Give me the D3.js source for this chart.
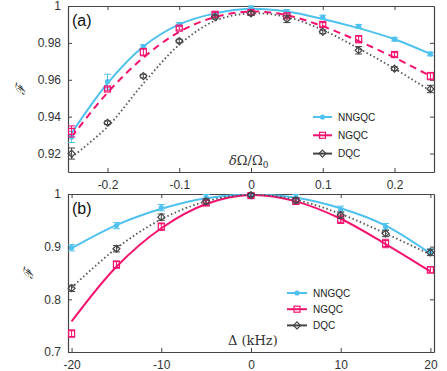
<!DOCTYPE html>
<html>
<head>
<meta charset="utf-8">
<script src="https://cdn.jsdelivr.net/npm/d3@7"></script>
<style>
  body { margin: 0; background: #fff; }
  svg { font-family: "Liberation Sans", Arial, sans-serif; }
  .tick text { fill: #333; font-size: 12px; }
  .tick line, .domain { stroke: #444; }
</style>
</head>
<body>
<script>
// panel (a): fidelity vs relative Rabi-frequency error
var xA = [-0.25, -0.2, -0.15, -0.1, -0.05, 0, 0.05, 0.1, 0.15, 0.2, 0.25];
var aNNGQC = [0.929, 0.959, 0.978, 0.990, 0.996, 0.999, 0.997, 0.994, 0.989, 0.982, 0.974];
var aNNGQCerr = [0.003, 0.004, 0.001, 0.001, 0.001, 0.001, 0.001, 0.001, 0.001, 0.001, 0.001];
var aNGQC = [0.932, 0.955, 0.975, 0.988, 0.9955, 0.9965, 0.9947, 0.990, 0.982, 0.9737, 0.962];
var aNGQCerr = [0.003, 0.001, 0.002, 0.001, 0.001, 0.001, 0.001, 0.001, 0.002, 0.001, 0.002];
var aDQC = [0.920, 0.9367, 0.962, 0.981, 0.994, 0.996, 0.993, 0.986, 0.976, 0.966, 0.955];
var aDQCerr = [0.003, 0.001, 0.001, 0.001, 0.001, 0.001, 0.002, 0.001, 0.002, 0.001, 0.002];
var aNNGQCfit = [0.931, 0.958, 0.978, 0.990, 0.996, 0.9985, 0.997, 0.993, 0.988, 0.982, 0.974];
var aNGQCfit = [0.929, 0.953, 0.972, 0.986, 0.994, 0.997, 0.995, 0.989, 0.981, 0.972, 0.962];
var aDQCfit = [0.918, 0.9345, 0.958, 0.979, 0.992, 0.996, 0.994, 0.987, 0.977, 0.966, 0.954];

// panel (b): fidelity vs detuning
var xB = [-20, -15, -10, -5, 0, 5, 10, 15, 20];
var bNNGQC = [0.898, 0.940, 0.974, 0.994, 0.998, 0.994, 0.971, 0.938, 0.890];
var bNNGQCerr = [0.006, 0.006, 0.006, 0.005, 0.003, 0.005, 0.006, 0.006, 0.006];
var bNGQC = [0.735, 0.866, 0.938, 0.983, 0.997, 0.986, 0.952, 0.906, 0.856];
var bNGQCerr = [0.007, 0.007, 0.007, 0.005, 0.004, 0.005, 0.008, 0.008, 0.006];
var bDQC = [0.821, 0.896, 0.956, 0.986, 0.998, 0.988, 0.960, 0.925, 0.889];
var bDQCerr = [0.006, 0.006, 0.006, 0.005, 0.003, 0.005, 0.006, 0.006, 0.006];
var bNNGQCfit = [0.897, 0.941, 0.972, 0.992, 0.999, 0.993, 0.973, 0.940, 0.887];
var bNGQCfit = [0.758, 0.862, 0.935, 0.981, 0.998, 0.986, 0.953, 0.905, 0.853];
var bDQCfit = [0.822, 0.897, 0.952, 0.986, 0.999, 0.989, 0.962, 0.925, 0.885];

var ticksA_x = [-0.2, -0.1, 0, 0.1, 0.2];
var ticksA_y = [0.92, 0.94, 0.96, 0.98, 1];
var ticksB_x = [-20, -10, 0, 10, 20];
var ticksB_y = [0.7, 0.8, 0.9, 1];
var names = ['NNGQC', 'NGQC', 'DQC'];
var colors = ['#4fc1ef', '#f5126f', '#555'];
var markers = ['dot', 'square', 'diamond'];

var W = 447, H = 371;
var svg = d3.select('body').append('svg').attr('width', W).attr('height', H);

function drawMarker(g, type, color, cx, cy) {
    if (type == 'dot') {
        g.append('circle').attr('cx', cx).attr('cy', cy).attr('r', 2.6).attr('fill', color);
    } else if (type == 'square') {
        g.append('rect').attr('x', cx - 3).attr('y', cy - 3).attr('width', 6).attr('height', 6)
            .attr('fill', 'none').attr('stroke', color).attr('stroke-width', 1.2);
    } else {
        g.append('path').attr('d', 'M' + cx + ',' + (cy - 3.5) + 'L' + (cx + 3.5) + ',' + cy +
                'L' + cx + ',' + (cy + 3.5) + 'L' + (cx - 3.5) + ',' + cy + 'Z')
            .attr('fill', 'none').attr('stroke', color).attr('stroke-width', 1.2);
    }
}

function panel(opt) {
    var x = d3.scaleLinear().domain(opt.xdom).range([68, 434]);
    var y = d3.scaleLinear().domain(opt.ydom).range([opt.bottom, opt.top]);
    var g = svg.append('g');

    // axes, ticks pointing inward on all four sides
    g.append('g').attr('transform', 'translate(0,' + opt.bottom + ')')
        .call(d3.axisBottom(x).tickValues(opt.xt).tickSize(-4).tickPadding(8).tickSizeOuter(0)
            .tickFormat(d => String(d)));
    g.append('g').attr('transform', 'translate(0,' + opt.top + ')')
        .call(d3.axisTop(x).tickValues(opt.xt).tickSize(-4).tickSizeOuter(0).tickFormat(''));
    g.append('g').attr('transform', 'translate(68,0)')
        .call(d3.axisLeft(y).tickValues(opt.yt).tickSize(-4).tickPadding(7).tickSizeOuter(0)
            .tickFormat(d => String(d)));
    g.append('g').attr('transform', 'translate(434,0)')
        .call(d3.axisRight(y).tickValues(opt.yt).tickSize(-4).tickSizeOuter(0).tickFormat(''));
    g.selectAll('.domain').attr('stroke-width', 1.2);

    var line = d3.line().curve(d3.curveCatmullRom).x((d, i) => x(opt.xs[i])).y(d => y(d));
    var clip = 'clip' + opt.id;
    svg.append('clipPath').attr('id', clip).append('rect')
        .attr('x', 68).attr('y', opt.top).attr('width', 366).attr('height', opt.bottom - opt.top);

    opt.series.forEach((s, k) => {
        g.append('path').attr('d', line(s.fit)).attr('fill', 'none')
            .attr('clip-path', 'url(#' + clip + ')')
            .attr('stroke', colors[k]).attr('stroke-width', k == 2 ? 1.8 : 2)
            .attr('stroke-dasharray', opt.dashes[k]);
    });
    opt.series.forEach((s, k) => {
        s.val.forEach((v, i) => {
            var cx = x(opt.xs[i]);
            var y0 = y(v - s.err[i]), y1 = y(v + s.err[i]);
            var c = k == 2 ? '#444' : colors[k];
            g.append('line').attr('x1', cx).attr('x2', cx).attr('y1', y0).attr('y2', y1)
                .attr('stroke', c).attr('stroke-width', 1);
            [y0, y1].forEach(yy => g.append('line').attr('x1', cx - 3.5).attr('x2', cx + 3.5)
                .attr('y1', yy).attr('y2', yy).attr('stroke', c).attr('stroke-width', 1));
            drawMarker(g, markers[k], c, cx, y(v));
        });
    });

    // legend
    names.forEach((n, k) => {
        var ly = opt.leg[1] + k * opt.leg[3];
        var c = k == 2 ? '#444' : colors[k];
        g.append('line').attr('x1', opt.leg[0]).attr('x2', opt.leg[0] + opt.leg[2])
            .attr('y1', ly).attr('y2', ly).attr('stroke', c).attr('stroke-width', 2);
        drawMarker(g, markers[k], c, opt.leg[0] + opt.leg[2] / 2, ly);
        g.append('text').attr('x', opt.leg[0] + opt.leg[2] + 6).attr('y', ly + 3.5)
            .attr('font-size', '10px').attr('fill', '#222').text(n);
    });

    g.append('text').attr('x', 72).attr('y', opt.top + 20).attr('font-size', '16px')
        .attr('fill', '#111').text(opt.label);
    g.append('text').attr('transform', 'translate(' + opt.fx + ',' + (opt.top + opt.bottom) / 2 + ') rotate(-90)')
        .attr('text-anchor', 'middle').attr('font-family', 'DejaVu Serif, serif').attr('font-style', 'italic')
        .attr('font-size', '13px').attr('fill', '#333').text('ℱ');
    return g;
}

var ga = panel({
    id: 'a', xdom: [-0.255, 0.255], ydom: [0.91, 1], top: 6, bottom: 172,
    xt: ticksA_x, yt: ticksA_y, xs: xA, label: '(a)', fx: 25,
    dashes: [null, '7,5', '1.5,2.5'],
    leg: [313, 117, 19, 18.3],
    series: [
        {val: aNNGQC, err: aNNGQCerr, fit: aNNGQCfit},
        {val: aNGQC, err: aNGQCerr, fit: aNGQCfit},
        {val: aDQC, err: aDQCerr, fit: aDQCfit}
    ]
});
ga.append('text').attr('x', 229).attr('y', 165).attr('font-family', 'DejaVu Serif, serif')
    .attr('font-size', '13px').attr('fill', '#333')
    .html('<tspan font-style="italic">δ</tspan>Ω/Ω<tspan font-size="9px" dy="3">0</tspan>');

var gb = panel({
    id: 'b', xdom: [-20.4, 20.4], ydom: [0.7, 1], top: 194, bottom: 352,
    xt: ticksB_x, yt: ticksB_y, xs: xB, label: '(b)', fx: 33,
    dashes: [null, null, '1.5,2.5'],
    leg: [287, 293, 20, 16.2],
    series: [
        {val: bNNGQC, err: bNNGQCerr, fit: bNNGQCfit},
        {val: bNGQC, err: bNGQCerr, fit: bNGQCfit},
        {val: bDQC, err: bDQCerr, fit: bDQCfit}
    ]
});
gb.append('text').attr('x', 228).attr('y', 345).attr('font-family', 'DejaVu Serif, serif')
    .attr('font-size', '13px').attr('fill', '#333').text('Δ (kHz)');
</script>
</body>
</html>
